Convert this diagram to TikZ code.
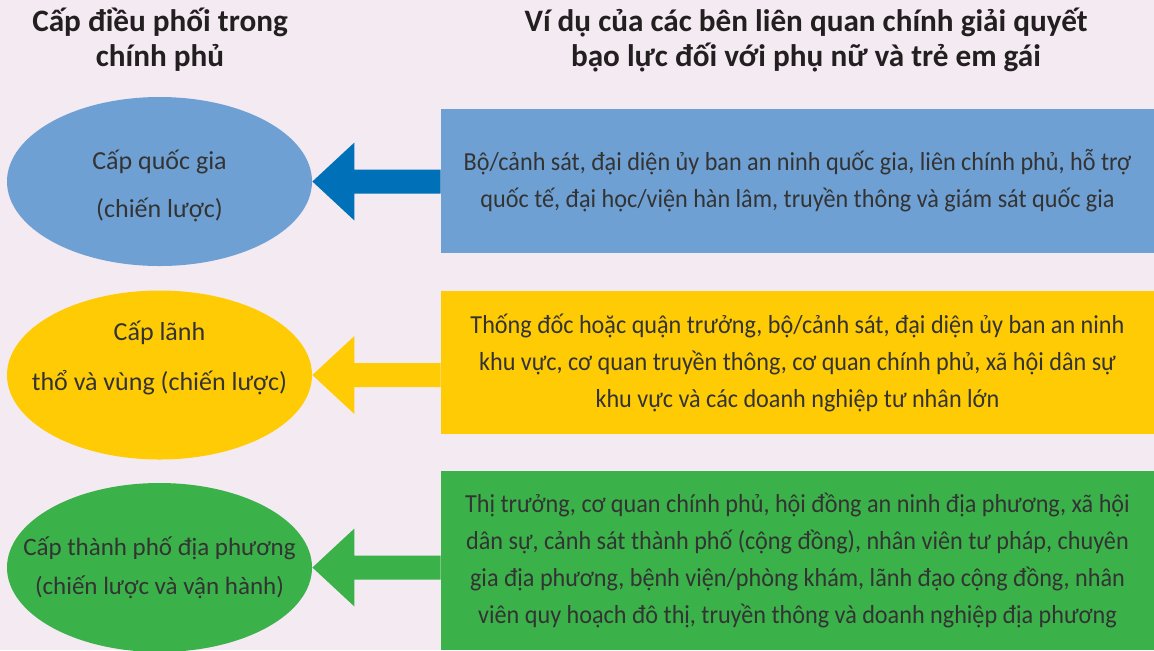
\documentclass[tikz,border=0pt]{standalone}
\usepackage{fontspec}
\setmainfont{Carlito}
\newfontfamily\boxfont[FakeStretch=0.93]{Carlito}
\usetikzlibrary{shapes.geometric}
\definecolor{bgpink}{HTML}{F4EAF2}
\definecolor{lvblue}{HTML}{6FA0D3}
\definecolor{arrowblue}{HTML}{0070B9}
\definecolor{lvyellow}{HTML}{FFCB05}
\definecolor{lvgreen}{HTML}{3BB14A}
\definecolor{inkgray}{HTML}{333333}
\definecolor{inkdark}{HTML}{231F20}

\begin{document}
\begin{tikzpicture}[x=0.5pt, y=-0.5pt,
  level/.style={ellipse, minimum width=152.5pt, minimum height=84.5pt, inner sep=0pt},
  leveltext/.style={align=center, text=inkgray, font=\fontsize{13}{24}\selectfont},
  actors/.style={rectangle, minimum width=356.5pt, inner sep=0pt, align=center, text=inkgray, font=\boxfont\fontsize{13}{18.5}\selectfont},
  heading/.style={align=center, text=inkdark, font=\bfseries\fontsize{15.6}{17.5}\selectfont}]
\useasboundingbox (0,0) rectangle (1154,650);
\fill[bgpink] (0,0) rectangle (1154,650);

% column headings
\node[heading] (head left) at (160,40) {Cấp điều phối trong\\chính phủ};
\node[heading] (head right) at (806,40) {Ví dụ của các bên liên quan chính giải quyết\\bạo lực đối với phụ nữ và trẻ em gái};

% levels of government
\node[level, fill=lvblue] (lv1) at (159.5,181.5) {};
\node[level, fill=lvyellow] (lv2) at (159.5,375) {};
\node[level, fill=lvgreen] (lv3) at (159.5,567.5) {};
\node[leveltext] (lv1 text) at ([yshift=-2.25pt]lv1.center) {Cấp quốc gia\\(chiến lược)};
\node[leveltext, font=\fontsize{13}{25}\selectfont] (lv2 text) at ([yshift=8.5pt]lv2.center) {Cấp lãnh\\thổ và vùng (chiến lược)};
\node[leveltext, font=\fontsize{12.5}{19.5}\selectfont] (lv3 text) at (lv3.center) {Cấp thành phố địa phương\\(chiến lược và vận hành)};

% stakeholders
\node[actors, fill=lvblue, minimum height=72pt] (ex1) at (797.5,181) {Bộ/cảnh sát, đại diện ủy ban an ninh quốc gia, liên chính phủ, hỗ trợ\\quốc tế, đại học/viện hàn lâm, truyền thông và giám sát quốc gia};
\node[actors, fill=lvyellow, minimum height=71.5pt] (ex2) at (797.5,362.5) {Thống đốc hoặc quận trưởng, bộ/cảnh sát, đại diện ủy ban an ninh\\khu vực, cơ quan truyền thông, cơ quan chính phủ, xã hội dân sự\\khu vực và các doanh nghiệp tư nhân lớn};
\node[actors, fill=lvgreen, minimum height=89.5pt] (ex3) at (797.5,560.5) {Thị trưởng, cơ quan chính phủ, hội đồng an ninh địa phương, xã hội\\dân sự, cảnh sát thành phố (cộng đồng), nhân viên tư pháp, chuyên\\gia địa phương, bệnh viện/phòng khám, lãnh đạo cộng đồng, nhân\\viên quy hoạch đô thị, truyền thông và doanh nghiệp địa phương};

% block arrows
\foreach \i/\col in {1/arrowblue, 2/lvyellow, 3/lvgreen}
   \fill[\col] (lv\i.east) -- ++(42,-39) -- ++(0,27) coordinate (top\i) -- (top\i -| ex\i.west)
      -- ++(0,24) coordinate (bot\i) -- (bot\i -| top\i) -- ++(0,27) -- cycle;
\end{tikzpicture}
\end{document}
